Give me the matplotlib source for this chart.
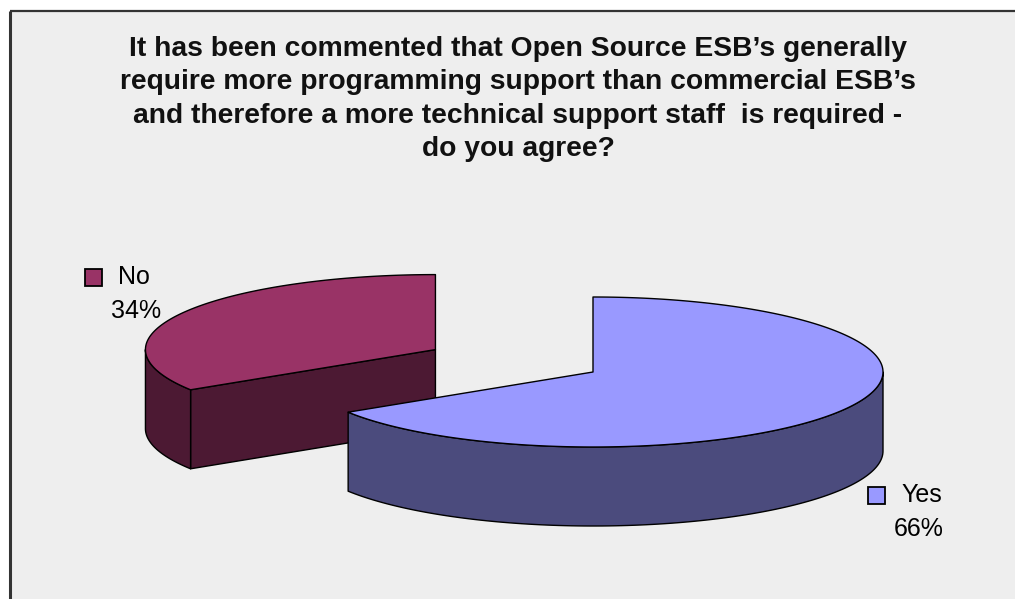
import numpy as np
import matplotlib.pyplot as plt
from matplotlib.patches import Polygon, Rectangle

# survey answers
labels = ['Yes', 'No']
shares = [66, 34]
explode = [0.0, 0.62]

top_colors = ['#9999FF', '#993366']
side_colors = ['#4B4B7D', '#4C1933']

title = ("It has been commented that Open Source ESB\u2019s generally\n"
         "require more programming support than commercial ESB\u2019s\n"
         "and therefore a more technical support staff  is required -\n"
         "do you agree?")

W, H = 1015, 599
fig = plt.figure(figsize=(W / 100, H / 100), dpi=100)
fig.patch.set_facecolor('white')
ax = fig.add_axes([0, 0, 1, 1])
ax.set_xlim(0, W)
ax.set_ylim(H, 0)
ax.axis('off')

# chart area with its frame
ax.add_patch(Rectangle((10, 11), W, H, facecolor='#EEEEEE', edgecolor='none', zorder=0))
ax.plot([10, W], [11, 11], color='#333333', lw=1.6, zorder=1, solid_capstyle='butt')
ax.plot([10.5, 10.5], [11, H], color='#333333', lw=2.2, zorder=1, solid_capstyle='butt')

ax.text(518, 99, title, ha='center', va='center', fontsize=20.3, fontweight='bold',
        family='Liberation Sans', linespacing=1.38, color='#111111')

# 3d pie geometry (pixel space, y grows downward)
cx, cy = 593, 372
rx, ry = 290, 75
depth = 79


def rim(x0, y0, t, dy=0):
    t = np.radians(t)
    return np.column_stack([x0 + rx * np.cos(t), y0 - ry * np.sin(t) + dy])


def draw_slice(x0, y0, a1, a2, top, side, z):
    kw = dict(edgecolor='black', lw=1.0, joinstyle='round')
    # cut faces that look toward the viewer
    for a, normal in ((a1, a1 - 90), (a2, a2 + 90)):
        if np.sin(np.radians(normal)) < -1e-6:
            p = rim(x0, y0, np.array([a]))[0]
            face = [(x0, y0), tuple(p), (p[0], p[1] + depth), (x0, y0 + depth)]
            ax.add_patch(Polygon(face, closed=True, facecolor=side, zorder=z, **kw))
    # outer wall on the front half of the ellipse
    for k in (-1, 0):
        lo, hi = max(a1, 180 + 360 * k), min(a2, 360 + 360 * k)
        if hi > lo:
            t = np.linspace(lo, hi, 120)
            wall = np.vstack([rim(x0, y0, t), rim(x0, y0, t[::-1], depth)])
            ax.add_patch(Polygon(wall, closed=True, facecolor=side, zorder=z + 0.1, **kw))
    # top surface
    t = np.linspace(a1, a2, 240)
    surf = np.vstack([[x0, y0], rim(x0, y0, t)])
    ax.add_patch(Polygon(surf, closed=True, facecolor=top, zorder=z + 0.2, **kw))


# slices run clockwise from 12 o'clock
start = 90.0
slices = []
for i, s in enumerate(shares):
    sweep = 360.0 * s / sum(shares)
    a2, a1 = start, start - sweep
    mid = np.radians((a1 + a2) / 2)
    x0 = cx + explode[i] * rx * np.cos(mid)
    y0 = cy - explode[i] * ry * np.sin(mid)
    slices.append((i, x0, y0, a1, a2))
    start = a1

# back slice first so the front one covers it
for n, (i, x0, y0, a1, a2) in enumerate(sorted(slices, key=lambda s: s[2])):
    draw_slice(x0, y0, a1, a2, top_colors[i], side_colors[i], 2 + n)

# category labels with colour keys
label_pos = {'No': (85, 277, 111, 311), 'Yes': (868, 495, 894, 529)}
for i, name in enumerate(labels):
    kx, ky, px, py = label_pos[name]
    ax.add_patch(Rectangle((kx, ky - 8), 17, 17, facecolor=top_colors[i],
                           edgecolor='black', lw=1.3, zorder=10))
    ax.text(kx + 33, ky, name, ha='left', va='center', fontsize=18,
            family='Liberation Sans', zorder=10)
    ax.text(px, py, f'{shares[i]}%', ha='left', va='center', fontsize=18,
            family='Liberation Sans', zorder=10)

fig.savefig('out.png', dpi=100, facecolor=fig.get_facecolor())
